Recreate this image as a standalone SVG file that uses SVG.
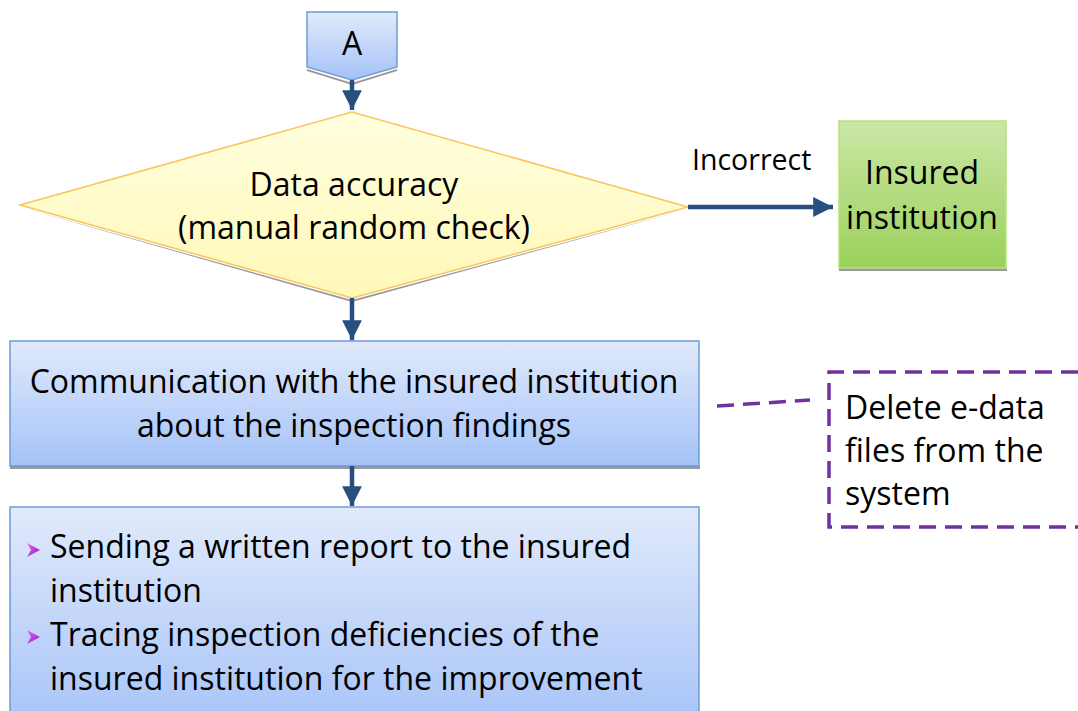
<svg xmlns="http://www.w3.org/2000/svg" width="1078" height="711" viewBox="0 0 1078 711">
<defs>
<linearGradient id="gBlue" x1="0" y1="0" x2="0" y2="1"><stop offset="0" stop-color="#E1EAFB"/><stop offset="1" stop-color="#A4C2F8"/></linearGradient>
<linearGradient id="gBlue2" x1="0" y1="0" x2="0" y2="1"><stop offset="0" stop-color="#E1EAFB"/><stop offset="1" stop-color="#A9C5F8"/></linearGradient>
<linearGradient id="gYel" x1="0" y1="0" x2="0" y2="1"><stop offset="0" stop-color="#FFFFDF"/><stop offset="1" stop-color="#FFF8B8"/></linearGradient>
<linearGradient id="gGreen" x1="0" y1="0" x2="0" y2="1"><stop offset="0" stop-color="#CBE7A6"/><stop offset="1" stop-color="#9BD15A"/></linearGradient>
<linearGradient id="gBul" x1="0" y1="0" x2="1" y2="1"><stop offset="0" stop-color="#E070F0"/><stop offset="1" stop-color="#9A10C8"/></linearGradient>
<marker id="ah" viewBox="0 0 10 10" refX="10" refY="5" markerWidth="4.4" markerHeight="4.4" orient="auto" markerUnits="strokeWidth"><path d="M0,0 L10,5 L0,10 z" fill="#27507F"/></marker>
<style>
.t{font-family:"Open Sans","Noto Sans",sans-serif;fill:#000;}
.c{stroke:#27507F;stroke-width:4.5;fill:none;}
.sh{fill:#9a9a9a;}
.bx{stroke:#6E9BD2;stroke-width:1.5;}
.dash{stroke:#7030A0;stroke-width:3.5;fill:none;stroke-dasharray:17 9;}
</style>
</defs>

<g id="nodeA">
<path class="sh" d="M307,69 L352,83 L397,69 L397,71 L352,85 L307,71 z"/>
<path d="M307,12 L397,12 L397,67 L352,80 L307,67 z" fill="url(#gBlue)" class="bx"/>
<text class="t" x="352" y="55" font-size="32" text-anchor="middle">A</text>
</g>

<g id="decision">
<path class="sh" d="M20,207 L352,300 L688,209 L352,302 z"/>
<path d="M20,205 L352,112 L688,207 L352,298 z" fill="url(#gYel)" stroke="#F9C55C" stroke-width="1.5"/>
<text class="t" x="354" y="196" font-size="32" text-anchor="middle">Data accuracy</text>
<text class="t" x="354" y="239" font-size="32" text-anchor="middle">(manual random check)</text>
</g>

<g id="insured">
<rect class="sh" x="839" y="268" width="168" height="3"/>
<rect x="839" y="121" width="167" height="147" fill="url(#gGreen)" stroke="#B8E07E" stroke-width="1.5"/>
<text class="t" x="922" y="184" font-size="32" text-anchor="middle">Insured</text>
<text class="t" x="922" y="229" font-size="32" text-anchor="middle">institution</text>
</g>

<g id="comm">
<rect class="sh" x="10" y="466" width="690" height="3"/>
<rect x="10" y="341" width="689" height="125" fill="url(#gBlue)" class="bx"/>
<text class="t" x="354" y="393" font-size="32" text-anchor="middle">Communication with the insured institution</text>
<text class="t" x="354" y="437" font-size="32" text-anchor="middle">about the inspection findings</text>
</g>

<g id="report">
<rect x="10" y="507" width="689" height="210" fill="url(#gBlue2)" class="bx"/>
<path d="M27,543 L40,550 L27,557 L31,550 z" fill="url(#gBul)"/>
<path d="M27,630 L40,637 L27,644 L31,637 z" fill="url(#gBul)"/>
<text class="t" x="50" y="558" font-size="32">Sending a written report to the insured</text>
<text class="t" x="50" y="602" font-size="32">institution</text>
<text class="t" x="50" y="646" font-size="32">Tracing inspection deficiencies of the</text>
<text class="t" x="50" y="690" font-size="32">insured institution for the improvement</text>
</g>

<g id="note">
<path class="dash" d="M1078,372 L829,372 L829,527 L1078,527"/>
<text class="t" x="845" y="419" font-size="32">Delete e-data</text>
<text class="t" x="845" y="462" font-size="32">files from the</text>
<text class="t" x="845" y="505" font-size="32">system</text>
</g>

<g id="connectors">
<line class="c" x1="352" y1="80" x2="352" y2="110" marker-end="url(#ah)"/>
<line class="c" x1="688" y1="207" x2="833" y2="207" marker-end="url(#ah)"/>
<line class="c" x1="352" y1="298" x2="352" y2="340" marker-end="url(#ah)"/>
<line class="c" x1="352" y1="466" x2="352" y2="506" marker-end="url(#ah)"/>
<path class="dash" d="M717,406 L810,400"/>
<text class="t" x="692" y="170" font-size="28.5">Incorrect</text>
</g>
</svg>
